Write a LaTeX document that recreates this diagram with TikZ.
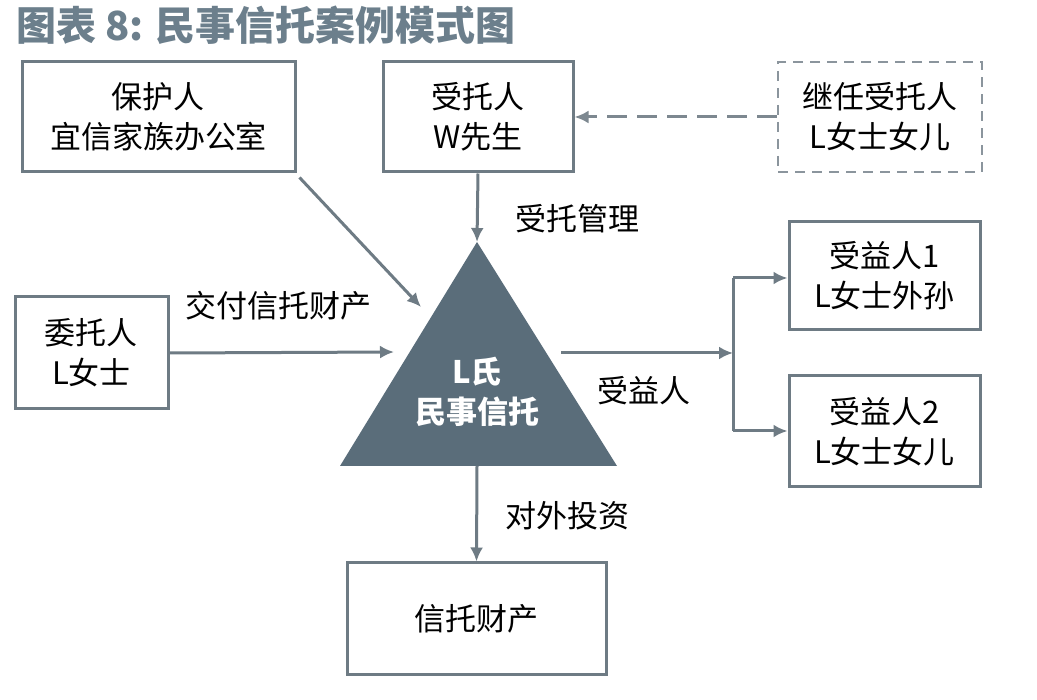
\documentclass[tikz,border=0pt]{standalone}
\usepackage{fontspec}
\setmainfont{Noto Sans CJK SC}
\usetikzlibrary{arrows.meta}
\definecolor{titlecol}{HTML}{6C7F8C}
\definecolor{tricol}{HTML}{5A6D7A}
\definecolor{linecol}{HTML}{6E7B84}
\tikzset{
  box/.style={draw=linecol, line width=3pt, align=center, inner sep=0pt,
              font=\fontsize{31}{40}\selectfont, text=black},
  dbox/.style={box, draw=linecol!80, line width=2.6pt, dash pattern=on 10pt off 7pt},
  arr/.style={draw=linecol, line width=3pt, -{Latex[length=14pt,width=13pt]}},
  plain/.style={draw=linecol, line width=3pt},
  lbl/.style={font=\fontsize{31}{40}\selectfont, text=black, inner sep=0pt}
}
\begin{document}
\begin{tikzpicture}[x=1pt,y=-1pt]
\useasboundingbox (0,0) rectangle (1037,700);
\fill[white] (0,0) rectangle (1037,700);
% title
\node[anchor=west, inner sep=0pt, text=titlecol, font=\fontsize{40}{44}\selectfont\bfseries] (title) at (16,25) {图表 8:\hspace{12pt}民事信托案例模式图};
% boxes
\node[box, minimum width=273pt, minimum height=110pt] (protector) at (158.5,117) {保护人\\宜信家族办公室};
\node[box, minimum width=190pt, minimum height=110pt] (trustee) at (478,117) {受托人\\W先生};
\node[dbox, minimum width=204pt, minimum height=110pt] (successor) at (880,117) {继任受托人\\L女士女儿};
\node[box, minimum width=153pt, minimum height=112pt] (settlor) at (91.5,353) {委托人\\L女士};
\node[box, minimum width=191pt, minimum height=108pt] (ben1) at (884.5,276) {受益人1\\L女士外孙};
\node[box, minimum width=191pt, minimum height=111pt] (ben2) at (884.5,431.5) {受益人2\\L女士女儿};
\node[box, minimum width=259pt, minimum height=111pt] (property) at (476.5,618.5) {信托财产};
% triangle
\coordinate (apex) at (477,242);
\coordinate (bl) at (340,466);
\coordinate (brc) at (617,466);
\coordinate (bbot) at (477,466);
\fill[tricol] (apex) -- (bl) -- (brc) -- cycle;
\node[text=white, align=center, inner sep=0pt, font=\fontsize{31}{40}\selectfont\bfseries] (trust) at (477,392) {L氏\\民事信托};
% connector end points
\coordinate (ptip) at (421,307);
\coordinate (stip) at (394,352);
\coordinate (tright) at (561,353);
\coordinate (branch) at (733,353);
\coordinate (br1) at (733,278);
\coordinate (br2) at (733,431);
% connectors
\draw[arr] (trustee.south) -- (apex);
\draw[arr] ([shift={(3,4)}]protector.south east) -- (ptip);
\draw[arr] (settlor.east) -- (stip);
\draw[arr] (tright) -- (branch);
\draw[plain] (br1) -- (br2);
\draw[arr] (br1) -- (br1 -| ben1.west);
\draw[arr] (br2) -- (br2 -| ben2.west);
\draw[arr] (bbot) -- (property.north);
\draw[arr, draw=linecol!90, dash pattern=on 20pt off 10pt] (successor.west) -- (trustee.east);
% labels
\node[lbl, anchor=west] (l1) at (515,219) {受托管理};
\node[lbl, anchor=west] (l2) at (185,306) {交付信托财产};
\node[lbl, anchor=west] (l3) at (597,391) {受益人};
\node[lbl, anchor=west] (l4) at (505,516) {对外投资};
\end{tikzpicture}
\end{document}
